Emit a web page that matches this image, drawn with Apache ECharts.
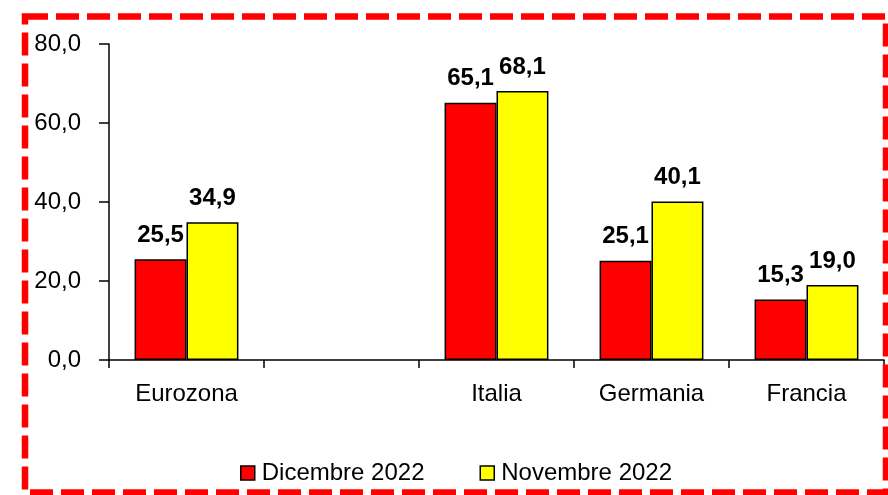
<!DOCTYPE html>
<html>
<head>
<meta charset="utf-8">
<script src="https://cdn.jsdelivr.net/npm/echarts@6/dist/echarts.min.js"></script>
<style>
  html, body { margin: 0; padding: 0; background: #fff; }
  #chart { width: 888px; height: 495px; }
</style>
</head>
<body>
<div id="chart"></div>
<script>
// Country groups (the empty slot leaves a gap after the euro area)
const categories = ['Eurozona', '', 'Italia', 'Germania', 'Francia'];
const dicembre2022 = [25.5, '-', 65.1, 25.1, 15.3];
const novembre2022 = [34.9, '-', 68.1, 40.1, 19.0];
const seriesNames = ['Dicembre 2022', 'Novembre 2022'];
const yTicks = { min: 0, max: 80, interval: 20 };

const FONT = "'Liberation Sans', Arial, sans-serif";
const fmt = v => Number(v).toFixed(1).replace('.', ',');

const chart = echarts.init(document.getElementById('chart'), null, { renderer: 'canvas' });

function barSeries(name, data, color) {
  return {
    name: name,
    type: 'bar',
    data: data,
    barGap: '0%',
    barCategoryGap: '33%',
    itemStyle: { color: color, borderColor: '#000', borderWidth: 1.5 },
    label: {
      show: true,
      position: 'top',
      distance: 12,
      formatter: p => fmt(p.value),
      fontFamily: FONT,
      fontWeight: 'bold',
      fontSize: 24,
      color: '#000'
    }
  };
}

chart.setOption({
  animation: false,
  backgroundColor: '#fff',
  grid: { left: 109, right: 4, top: 44, bottom: 135 },
  legend: {
    data: seriesNames,
    left: 235,
    top: 456,
    icon: 'rect',
    itemWidth: 14,
    itemHeight: 14,
    itemGap: 55,
    itemStyle: { borderColor: '#000', borderWidth: 1.5 },
    textStyle: { fontFamily: FONT, fontSize: 24, color: '#000', padding: [0, 0, 0, 2] }
  },
  xAxis: {
    type: 'category',
    data: categories,
    axisLine: { lineStyle: { color: '#000', width: 1.5 } },
    axisTick: { show: true, length: 8, interval: 0, lineStyle: { color: '#000', width: 1.5 } },
    axisLabel: { interval: 0, margin: 22, fontFamily: FONT, fontSize: 24, color: '#000' }
  },
  yAxis: {
    type: 'value',
    min: yTicks.min,
    max: yTicks.max,
    interval: yTicks.interval,
    splitLine: { show: false },
    axisLine: { show: true, lineStyle: { color: '#000', width: 1.5 } },
    axisTick: { show: true, length: 10, lineStyle: { color: '#000', width: 1.5 } },
    axisLabel: { margin: 28, formatter: fmt, fontFamily: FONT, fontSize: 24, color: '#000' }
  },
  series: [
    barSeries(seriesNames[0], dicembre2022, '#ff0000'),
    barSeries(seriesNames[1], novembre2022, '#ffff00')
  ],
  graphic: [{
    type: 'rect',
    silent: true,
    z: 100,
    shape: { x: 25, y: 16.5, width: 861, height: 476 },
    style: { fill: null, stroke: '#ff0000', lineWidth: 6.5, lineDash: [23, 8] }
  }]
});
</script>
</body>
</html>
